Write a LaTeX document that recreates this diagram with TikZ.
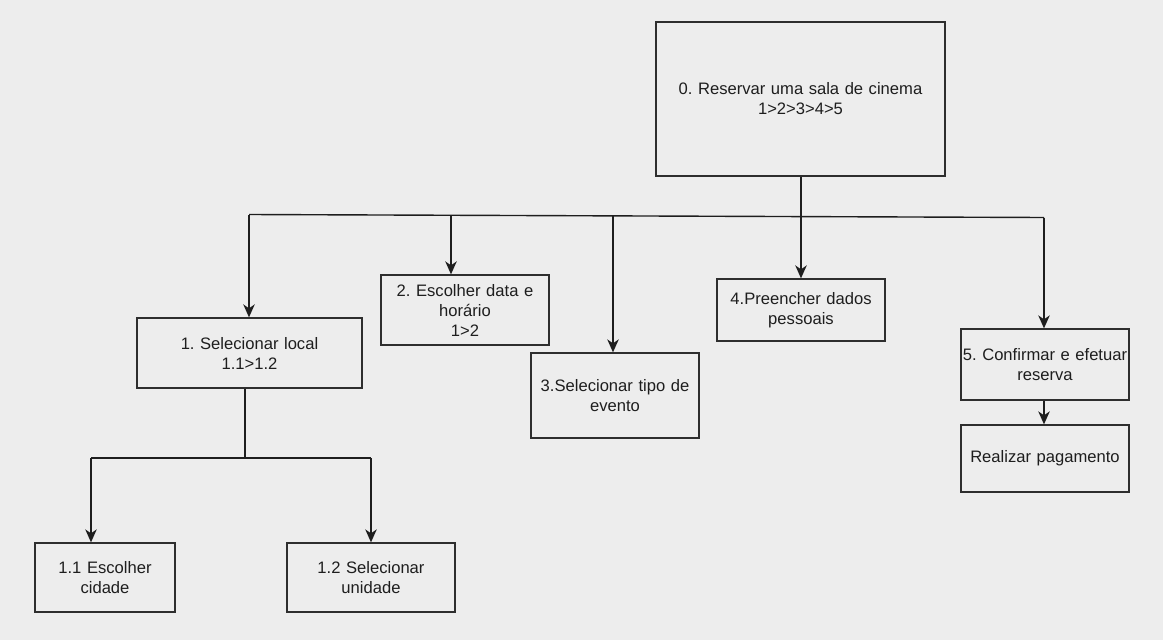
\documentclass[tikz,border=0pt]{standalone}
\usepackage{fontspec}
\setmainfont{Liberation Sans}
\usetikzlibrary{arrows.meta}
\frenchspacing
\definecolor{bgcol}{HTML}{EDEDED}
\definecolor{inkcol}{HTML}{1E1E1E}
\definecolor{framecol}{HTML}{2E2E2E}
\tikzset{
  box/.style={draw=framecol, line width=1.3pt, fill=bgcol, inner sep=0pt,
    align=center, text=inkcol, font=\fontsize{16.6}{20}\selectfont},
  link/.style={draw=inkcol, line width=1.4pt},
  arr/.style={link, -{Stealth[length=13pt,width=11.5pt,inset=4pt]}}
}
\begin{document}
\begin{tikzpicture}[x=1pt,y=-1pt]
  \fill[bgcol] (0,0) rectangle (1163,640);
  \useasboundingbox (0,0) rectangle (1163,640);

  % boxes: centre, width, height
  \node[box, minimum width=289pt, minimum height=154pt, text width=280pt] (b0) at (800.5,99)
    {0. Reservar uma sala de cinema\\1>2>3>4>5};
  \node[box, minimum width=225pt, minimum height=70pt, text width=215pt] (b1) at (249.5,353)
    {1. Selecionar local\\1.1>1.2};
  \node[box, minimum width=168pt, minimum height=70pt, text width=160pt] (b2) at (465,310)
    {2. Escolher data e\\horário\\1>2};
  \node[box, minimum width=168pt, minimum height=85pt, text width=166pt] (b3) at (615,395.5)
    {3.Selecionar tipo de\\evento};
  \node[box, minimum width=168pt, minimum height=62pt, text width=166pt] (b4) at (801,310)
    {4.Preencher dados\\pessoais};
  \node[box, minimum width=168pt, minimum height=71pt, text width=168pt] (b5) at (1045,364.5)
    {5. Confirmar e efetuar\\reserva};
  \node[box, minimum width=168pt, minimum height=67pt, text width=166pt] (b6) at (1045,458.5)
    {Realizar pagamento};
  \node[box, minimum width=140pt, minimum height=69pt, text width=132pt] (b11) at (105,577.5)
    {1.1 Escolher\\cidade};
  \node[box, minimum width=168pt, minimum height=69pt, text width=160pt] (b12) at (371,577.5)
    {1.2 Selecionar\\unidade};

  % distribution line below the root
  \coordinate (busL) at (249,214.5);
  \coordinate (busR) at (1044,217.5);
  \coordinate (j2) at (451,215.3);
  \coordinate (j3) at (613,215.9);
  \draw[link] (busL) -- (busR);

  \draw[arr] (b4.north |- b0.south) -- (b4.north);
  \draw[arr] (busL) -- (busL |- b1.north);
  \draw[arr] (j2) -- (j2 |- b2.north);
  \draw[arr] (j3) -- (j3 |- b3.north);
  \draw[arr] (busR) -- (busR |- b5.north);
  \draw[arr] (b5.south -| busR) -- (b6.north -| busR);

  % sub-steps of step 1
  \coordinate (s1) at (245,458);
  \coordinate (s1L) at (91,458);
  \coordinate (s1R) at (371,458);
  \draw[link] (s1 |- b1.south) -- (s1);
  \draw[link] (s1L) -- (s1R);
  \draw[arr] (s1L) -- (s1L |- b11.north);
  \draw[arr] (s1R) -- (s1R |- b12.north);
\end{tikzpicture}
\end{document}
